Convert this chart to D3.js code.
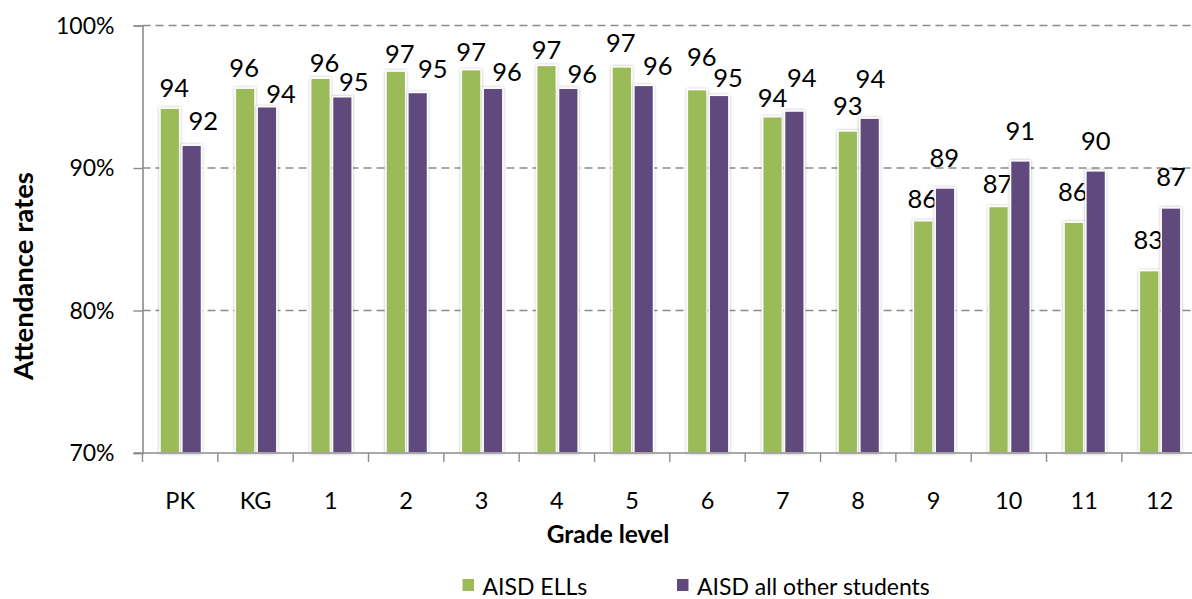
<!DOCTYPE html>
<html>
<head>
<meta charset="utf-8">
<script src="https://cdn.jsdelivr.net/npm/d3@7"></script>
<style>
  html, body { margin: 0; padding: 0; background: #fff; }
  svg { display: block; font-family: Lato, "Open Sans", sans-serif; }
</style>
</head>
<body>
<svg id="chart" width="1192" height="599"></svg>
<script>
// Grade levels along the x axis
const grades = ["PK", "KG", "1", "2", "3", "4", "5", "6", "7", "8", "9", "10", "11", "12"];

// Attendance rate (%) per grade
const ellRates   = [94.2, 95.6, 96.3, 96.8, 96.9, 97.2, 97.1, 95.5, 93.6, 92.6, 86.3, 87.3, 86.2, 82.8];
const otherRates = [91.6, 94.3, 95.0, 95.3, 95.6, 95.6, 95.8, 95.1, 94.0, 93.5, 88.6, 90.5, 89.8, 87.2];

const seriesNames = ["AISD ELLs", "AISD all other students"];
const yTicks = [70, 80, 90, 100];

// Hand-placed label nudges: [dx, gap above bar top]
const ellLabelNudge = [[4.5,11],[-1,11.7],[4,6],[4,7.7],[0,8.3],[0,6],[-1,14.6],[4.5,24],[0,9.3],[0,15.7],[-1,13],[-1,13.4],[-1,21.3],[-1,21.7]];
const otherLabelNudge = [[11.6,15.7],[14,3.4],[11.5,6],[15,14.6],[14,7],[14,5],[14,10],[9,8.3],[7.5,24.4],[0.7,30],[-0.7,21.3],[0,21.3],[0,20.6],[0,22.3]];

const colors = { "AISD ELLs": "#9bbb59", "AISD all other students": "#604a7b" };

const series = [
  { name: seriesNames[0], values: ellRates, nudge: ellLabelNudge },
  { name: seriesNames[1], values: otherRates, nudge: otherLabelNudge }
];

const svg = d3.select("#chart");

const plot = { left: 142.5, right: 1197.2, top: 25.5, bottom: 453 };

const x = d3.scaleBand().domain(grades).range([plot.left, plot.right]).paddingInner(0).paddingOuter(0);
const xInner = d3.scaleBand().domain(seriesNames).range([17.5, 59]).paddingInner(0.1);
const y = d3.scaleLinear().domain([70, 100]).range([plot.bottom, plot.top]);

// Soft shadow around the bars
const defs = svg.append("defs");
const f = defs.append("filter").attr("id", "barShadow")
  .attr("x", "-30%").attr("y", "-10%").attr("width", "160%").attr("height", "120%");
f.append("feDropShadow").attr("dx", 0).attr("dy", 0).attr("stdDeviation", 1.6)
  .attr("flood-color", "#000").attr("flood-opacity", 0.3);

// Dashed gridlines
svg.append("g").selectAll("line")
  .data(yTicks.filter(t => t > 70))
  .join("line")
  .attr("x1", plot.left).attr("x2", 1192)
  .attr("y1", d => y(d)).attr("y2", d => y(d))
  .attr("stroke", "#8c8c8c").attr("stroke-width", 1.3)
  .attr("stroke-dasharray", "8,5");

// Y axis
const yAxis = svg.append("g")
  .attr("transform", `translate(${plot.left},0)`)
  .call(d3.axisLeft(y).tickValues(yTicks).tickFormat(d => d + "%").tickSize(9).tickPadding(19));
yAxis.select(".domain").attr("stroke", "#8c8c8c").attr("stroke-width", 1.6);
yAxis.selectAll(".tick line").attr("stroke", "#8c8c8c").attr("stroke-width", 1.4);
yAxis.selectAll(".tick text").attr("font-size", 23).attr("fill", "#000")
  .attr("font-family", "Lato, 'Open Sans', sans-serif").attr("dy", "0.34em");

// Bars
const groups = svg.append("g").selectAll("g")
  .data(series)
  .join("g")
  .attr("fill", d => colors[d.name]);

groups.selectAll("rect")
  .data(s => s.values.map((v, i) => ({ grade: grades[i], value: v, name: s.name })))
  .join("rect")
  .attr("x", d => x(d.grade) + xInner(d.name))
  .attr("width", xInner.bandwidth())
  .attr("y", d => y(d.value))
  .attr("height", d => y(70) - y(d.value))
  .attr("stroke", "#fff").attr("stroke-width", 1.5)
  .attr("filter", "url(#barShadow)");

// X axis
const xAxisLine = svg.append("g");
xAxisLine.append("line")
  .attr("x1", plot.left - 9).attr("x2", 1192)
  .attr("y1", plot.bottom).attr("y2", plot.bottom)
  .attr("stroke", "#8c8c8c").attr("stroke-width", 1.6);
xAxisLine.selectAll("line.tk")
  .data(grades.concat(["__end"]))
  .join("line").attr("class", "tk")
  .attr("x1", (d, i) => plot.left + i * x.step())
  .attr("x2", (d, i) => plot.left + i * x.step())
  .attr("y1", plot.bottom).attr("y2", plot.bottom + 9)
  .attr("stroke", "#8c8c8c").attr("stroke-width", 1.4);

svg.append("g").selectAll("text")
  .data(grades)
  .join("text")
  .attr("x", d => x(d) + x.bandwidth() / 2)
  .attr("y", 509)
  .attr("text-anchor", "middle")
  .attr("font-size", 23.5)
  .attr("fill", "#000")
  .text(d => d);

// Data labels
groups.selectAll("text")
  .data(s => s.values.map((v, i) => ({ grade: grades[i], value: v, name: s.name, nudge: s.nudge[i] })))
  .join("text")
  .attr("x", d => x(d.grade) + xInner(d.name) + xInner.bandwidth() / 2 + d.nudge[0])
  .attr("y", d => y(d.value) - d.nudge[1])
  .attr("text-anchor", "middle")
  .attr("font-size", 25.5)
  .attr("fill", "#000")
  .text(d => Math.round(d.value));

// Axis titles
svg.append("text")
  .attr("x", 608).attr("y", 543)
  .attr("text-anchor", "middle")
  .attr("font-size", 24.5).attr("font-weight", "bold")
  .attr("fill", "#000")
  .text("Grade level");

svg.append("text")
  .attr("transform", "translate(33,276) rotate(-90)")
  .attr("text-anchor", "middle")
  .attr("font-size", 27.5).attr("font-weight", "bold")
  .attr("fill", "#000")
  .text("Attendance rates");

// Legend
const legendPos = [462.5, 677];
const legend = svg.append("g").selectAll("g")
  .data(seriesNames)
  .join("g")
  .attr("transform", (d, i) => `translate(${legendPos[i]},0)`);
legend.append("rect")
  .attr("x", 0).attr("y", 579).attr("width", 11.5).attr("height", 12)
  .attr("fill", d => colors[d]);
legend.append("text")
  .attr("x", 20).attr("y", 595)
  .attr("font-size", 23)
  .attr("fill", "#000")
  .text(d => d);
</script>
</body>
</html>
